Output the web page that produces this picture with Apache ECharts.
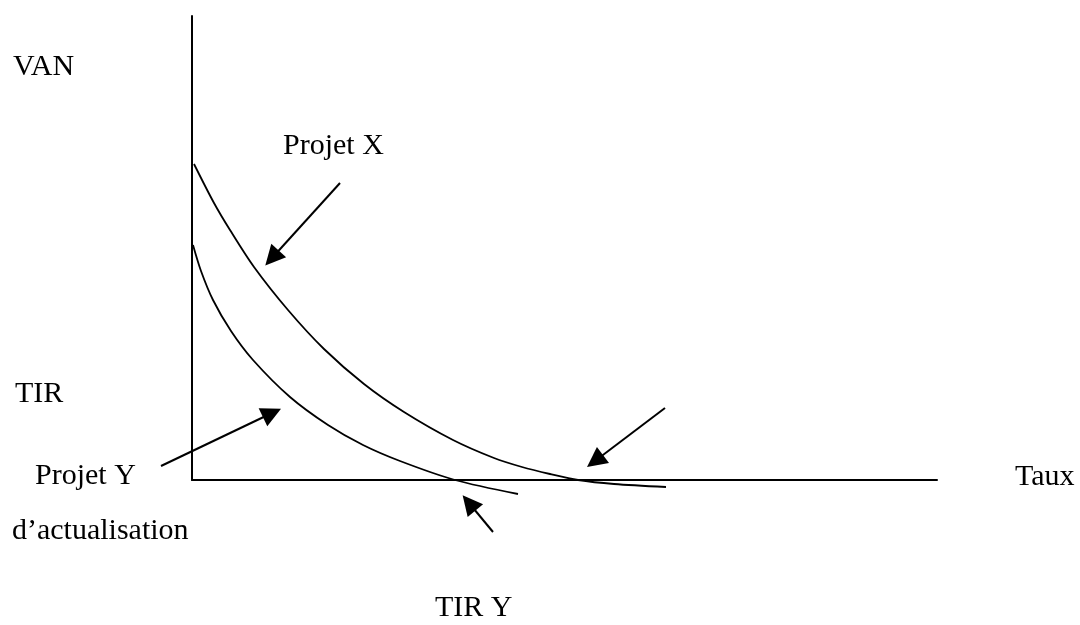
<!DOCTYPE html>
<html>
<head>
<meta charset="utf-8">
<script src="https://cdn.jsdelivr.net/npm/echarts@6/dist/echarts.min.js"></script>
<style>
  html, body { margin: 0; padding: 0; background: #fff; }
  #chart { width: 1080px; height: 625px; }
</style>
</head>
<body>
<div id="chart"></div>
<script>
// curves, [taux, VAN] in axis units
const projetX = [
  [2, 316], [22, 277], [38, 250], [62, 213], [96, 170], [132, 131], [172, 96],
  [212, 68], [261, 40], [302, 22], [330, 13], [358, 6], [386, 0], [422, -4], [474, -7]
];
const projetY = [
  [1, 235], [9, 209], [21, 180], [39, 149], [61, 120], [98, 83],
  [136, 55], [171, 35], [208, 19], [263, 0], [326, -14]
];
// arrows: [from, to]
const arrows = [
  [[148, 297], [80, 222]],   // Projet X
  [[-31, 14], [80, 67]],     // Projet Y
  [[473, 72], [403, 19]],    // TIR X
  [[301, -52], [277, -23]]   // TIR Y
];
const labels = [
  { text: 'VAN', x: 13, y: 67 },
  { text: 'Projet X', x: 283, y: 146 },
  { text: 'TIR', x: 15, y: 394 },
  { text: 'Projet Y', x: 35, y: 476 },
  { text: 'd\u2019actualisation', x: 12, y: 531 },
  { text: 'Taux', x: 1015, y: 477 },
  { text: 'TIR Y', x: 435, y: 608 }
];

const font = '"Liberation Serif", "DejaVu Serif", serif';
const myChart = echarts.init(document.getElementById('chart'));

const curve = (data) => ({
  type: 'line',
  data: data,
  smooth: 0.3,
  clip: false,
  showSymbol: false,
  silent: true,
  lineStyle: { color: '#000', width: 1.8 }
});

const option = {
  animation: false,
  backgroundColor: '#fff',
  grid: { left: 192, right: 143, top: 16, bottom: 145 },
  xAxis: {
    type: 'value',
    min: 0,
    max: 745,
    axisLine: { onZero: false, lineStyle: { color: '#000', width: 2 } },
    axisTick: { show: false },
    axisLabel: { show: false },
    splitLine: { show: false }
  },
  yAxis: {
    type: 'value',
    min: 0,
    max: 464,
    axisLine: { show: true, onZero: false, lineStyle: { color: '#000', width: 2 } },
    axisTick: { show: false },
    axisLabel: { show: false },
    splitLine: { show: false }
  },
  graphic: labels.map((l) => ({
    type: 'text',
    left: l.x,
    top: l.y - 15,
    style: {
      text: l.text,
      font: '30px ' + font,
      fill: '#000'
    }
  })),
  series: [
    curve(projetX),
    curve(projetY),
    {
      type: 'lines',
      coordinateSystem: 'cartesian2d',
      clip: false,
      silent: true,
      symbol: ['none', 'triangle'],
      symbolSize: [16, 20],
      lineStyle: { color: '#000', width: 2, opacity: 1 },
      itemStyle: { color: '#000' },
      data: arrows.map((a) => ({ coords: a }))
    }
  ]
};
myChart.setOption(option);
</script>
</body>
</html>
